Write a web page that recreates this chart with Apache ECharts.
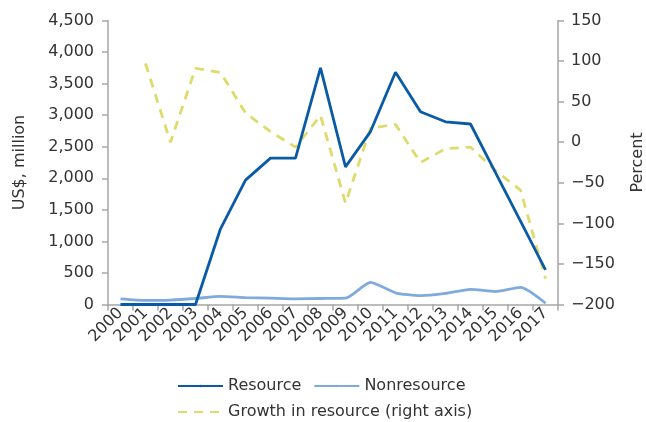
<!DOCTYPE html>
<html>
<head>
<meta charset="utf-8">
<script src="https://cdn.jsdelivr.net/npm/echarts@6/dist/echarts.min.js"></script>
<style>
  html, body { margin: 0; padding: 0; background: #fff; }
  #main { width: 646px; height: 422px; }
</style>
</head>
<body>
<div id="main"></div>
<script>
// data
var years = ['2000', '2001', '2002', '2003', '2004', '2005', '2006', '2007', '2008',
    '2009', '2010', '2011', '2012', '2013', '2014', '2015', '2016', '2017'];
var resource = [0, 0, 0, 0, 1200, 1970, 2320, 2320, 3750, 2180, 2740, 3680, 3055, 2895, 2860, 2090, 1320, 550];
var nonresource = [90, 65, 70, 95, 130, 110, 100, 90, 95, 100, 350, 185, 140, 175, 240, 205, 270, 20];
var growth = [null, 97, 0, 91, 86, 36, 13, -6, 33, -75, 17, 22, -25, -8, -6, -35, -59, -168];

var font = 'DejaVu Sans';
var axisGrey = '#a6a6a6';
var textCol = '#333';

function thousands(v) {
    return String(v).replace(/\B(?=(\d{3})+(?!\d))/g, ',');
}

var chart = echarts.init(document.getElementById('main'), null, { renderer: 'canvas' });
chart.setOption({
    animation: false,
    textStyle: { fontFamily: font },
    grid: { left: 108, right: 88, top: 20.5, bottom: 117.5, outerBoundsMode: 'none' },
    legend: [{
        data: ['Resource', 'Nonresource'],
        left: 177, top: 378, padding: 0,
        itemWidth: 45, itemHeight: 3, itemGap: 12,
        textStyle: { fontFamily: font, fontSize: 16, color: textCol }
    }, {
        data: ['Growth in resource (right axis)'],
        left: 177, top: 404, padding: 0,
        itemWidth: 45, itemHeight: 3,
        textStyle: { fontFamily: font, fontSize: 16, color: textCol }
    }],
    xAxis: {
        type: 'category',
        data: years,
        boundaryGap: true,
        axisLine: { lineStyle: { color: axisGrey, width: 1.5 } },
        axisTick: { show: true, length: 6, lineStyle: { color: axisGrey, width: 1.5 } },
        axisLabel: { rotate: 45, fontSize: 16, color: textCol, margin: 6, interval: 0 }
    },
    yAxis: [{
        type: 'value',
        min: 0, max: 4500, interval: 500,
        name: 'US$, million',
        nameLocation: 'middle', nameGap: 80,
        nameTextStyle: { fontSize: 16, color: textCol },
        splitLine: { show: false },
        axisLine: { show: true, lineStyle: { color: axisGrey, width: 1.5 } },
        axisTick: { show: true, length: 6, lineStyle: { color: axisGrey, width: 1.5 } },
        axisLabel: { fontSize: 16, color: textCol, margin: 14, formatter: thousands }
    }, {
        type: 'value',
        min: -200, max: 150, interval: 50,
        name: 'Percent',
        nameLocation: 'middle', nameGap: 72,
        nameTextStyle: { fontSize: 16, color: textCol },
        splitLine: { show: false },
        axisLine: { show: true, lineStyle: { color: axisGrey, width: 1.5 } },
        axisTick: { show: true, length: 6, lineStyle: { color: axisGrey, width: 1.5 } },
        axisLabel: {
            fontSize: 16, color: textCol, margin: 13,
            formatter: function (v) { return v < 0 ? '\u2212' + (-v) : String(v); }
        }
    }],
    series: [{
        name: 'Resource',
        type: 'line',
        data: resource,
        yAxisIndex: 0,
        symbol: 'none',
        z: 3,
        lineStyle: { color: '#0a5ba6', width: 2.8 },
        itemStyle: { color: '#0a5ba6' }
    }, {
        name: 'Nonresource',
        type: 'line',
        data: nonresource,
        yAxisIndex: 0,
        symbol: 'none',
        smooth: 0.2,
        z: 2,
        lineStyle: { color: '#7eaadd', width: 2.8 },
        itemStyle: { color: '#7eaadd' }
    }, {
        name: 'Growth in resource (right axis)',
        type: 'line',
        data: growth,
        yAxisIndex: 1,
        symbol: 'none',
        z: 1,
        lineStyle: { color: '#dedb6c', width: 2.8, type: [9, 7] },
        itemStyle: { color: '#dedb6c' }
    }]
});
</script>
</body>
</html>
